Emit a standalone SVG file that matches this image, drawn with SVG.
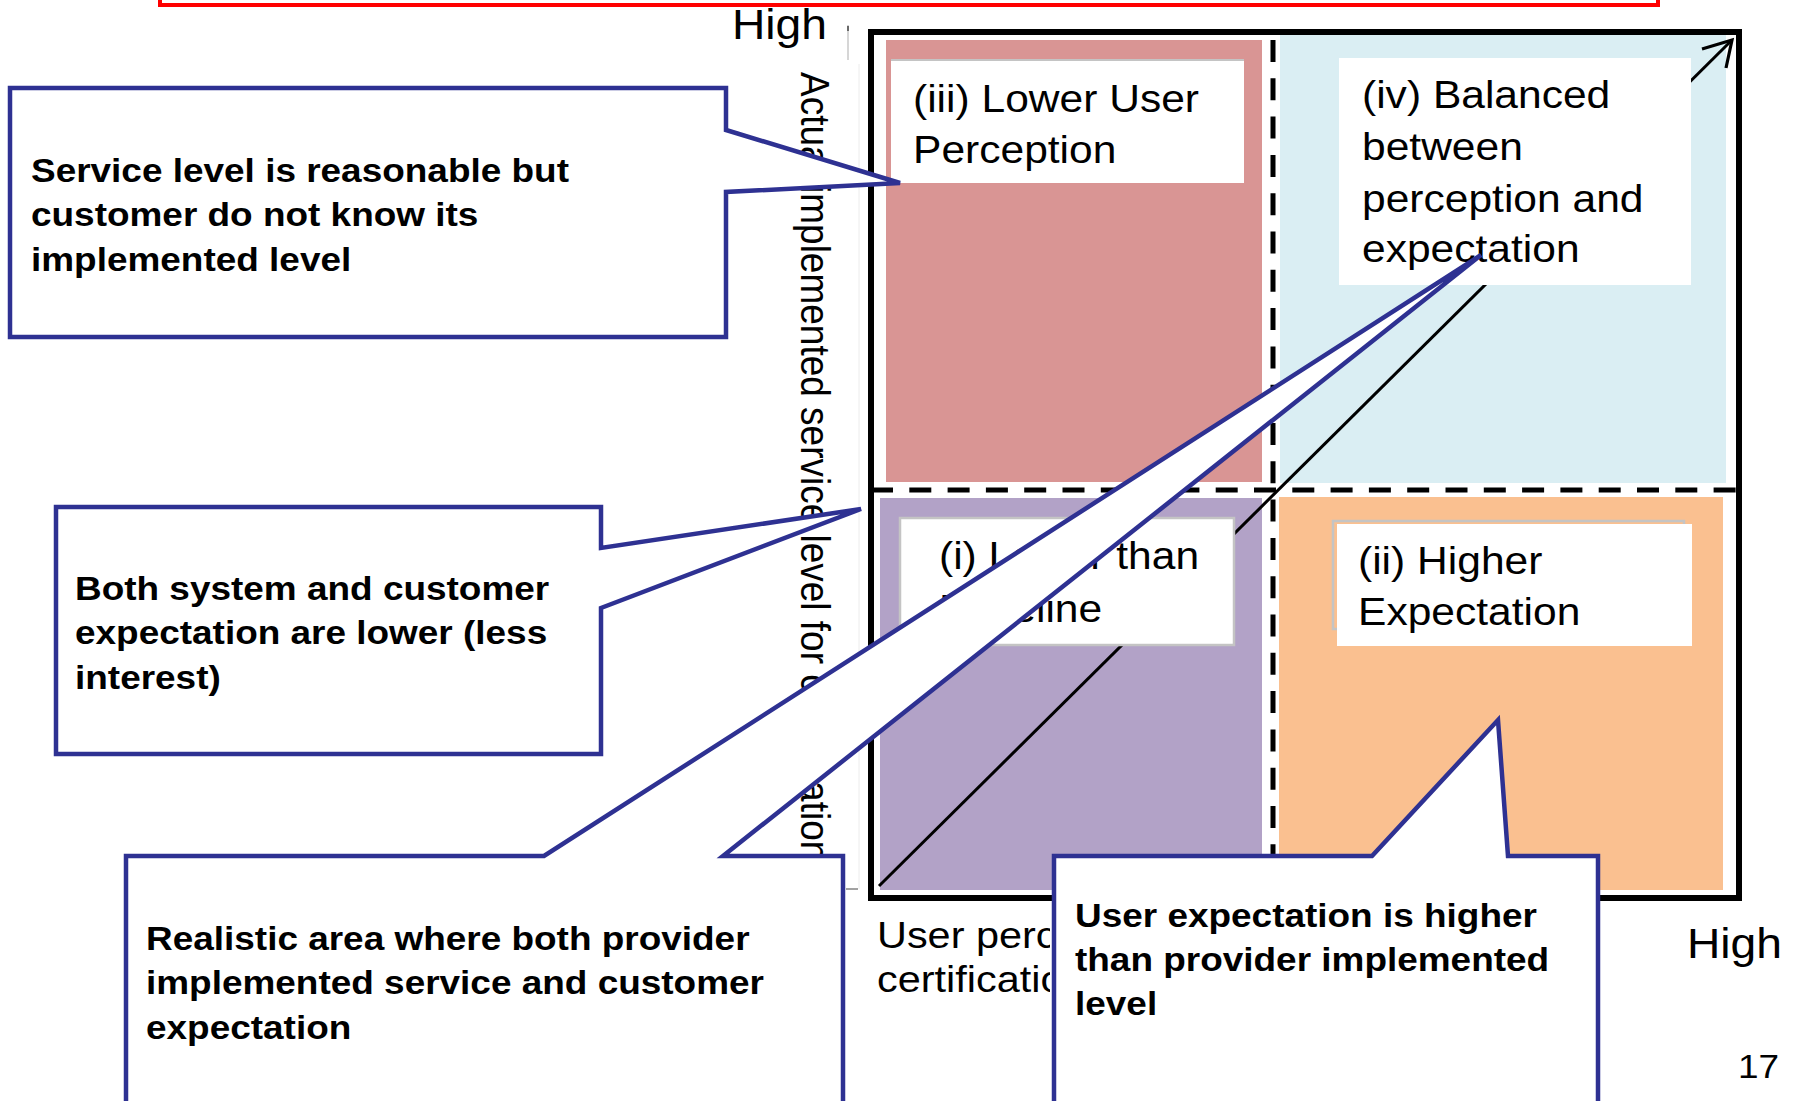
<svg xmlns="http://www.w3.org/2000/svg" width="1797" height="1101" viewBox="0 0 1797 1101">
<style>
.t{font-family:"Liberation Sans",Arial,sans-serif;fill:#000}
.lbl{font-size:38px}
.ax{font-size:37px}
.hi{font-size:42px}
.cal{font-size:33px;font-weight:bold}
.co{fill:#fff;stroke:#2E3192;stroke-width:4.5}
.box{fill:#fff}
.dash{stroke:#000;stroke-width:5;stroke-dasharray:22 16.3;fill:none}
</style>
<defs>
<clipPath id="clipAxisX"><rect x="860" y="900" width="190" height="120"/></clipPath>
</defs>
<rect x="0" y="0" width="1797" height="1101" fill="#fff"/>
<rect x="160" y="-60" width="1498" height="65" fill="none" stroke="#FF0000" stroke-width="4"/>

<g id="axis-guides">
<line x1="848" y1="25" x2="848" y2="60" stroke="#c8c8c8" stroke-width="1.5"/>
<line x1="848" y1="26" x2="848" y2="31" stroke="#444" stroke-width="1.5"/>
<line x1="859" y1="64" x2="859" y2="889" stroke="#ececec" stroke-width="1"/>
<line x1="846" y1="889" x2="858" y2="889" stroke="#444" stroke-width="1"/>
</g>

<g id="quadrants">
<rect id="q3" x="886" y="40" width="376" height="442" fill="#D99594"/>
<rect id="q4" x="1280" y="35" width="446" height="448" fill="#DAEEF3"/>
<rect id="q1" x="880" y="498" width="382" height="392" fill="#B2A2C7"/>
<rect id="q2" x="1279" y="497" width="444" height="393" fill="#FAC090"/>
</g>

<g id="diagonal">
<line x1="879" y1="886" x2="1732" y2="40" stroke="#000" stroke-width="3"/>
<polyline points="1702,49 1732,40 1726,68" fill="none" stroke="#000" stroke-width="3.2"/>
</g>

<g id="label-iii">
<rect x="891" y="59" width="353" height="4" fill="#c4c4c4"/>
<rect class="box" x="891" y="61" width="353" height="122"/>
<text class="t lbl" transform="translate(913,112) scale(1.12,1)"><tspan x="0" y="0">(iii) Lower User</tspan><tspan x="0" y="51">Perception</tspan></text>
</g>
<g id="label-iv">
<rect class="box" x="1339" y="58" width="352" height="227"/>
<text class="t lbl" transform="translate(1362,108) scale(1.12,1)"><tspan x="0" y="0">(iv) Balanced</tspan><tspan x="0" y="52">between</tspan><tspan x="0" y="104">perception and</tspan><tspan x="0" y="154">expectation</tspan></text>
</g>
<g id="label-i">
<rect class="box" x="900" y="518" width="334" height="127" stroke="#c4c4c4" stroke-width="2.5"/>
<text class="t lbl" transform="translate(939,569) scale(1.12,1)"><tspan x="0" y="0">(i) Lower than</tspan><tspan x="0" y="53">Baseline</tspan></text>
</g>
<g id="label-ii">
<rect x="1333" y="521" width="351" height="108" fill="none" stroke="#c4c4c4" stroke-width="2.5"/>
<rect class="box" x="1337" y="524" width="355" height="122"/>
<text class="t lbl" transform="translate(1358,574) scale(1.12,1)"><tspan x="0" y="0">(ii) Higher</tspan><tspan x="0" y="51">Expectation</tspan></text>
</g>

<g id="dividers">
<line class="dash" x1="1273" y1="40" x2="1273" y2="896"/>
<line class="dash" x1="871" y1="490" x2="1740" y2="490"/>
</g>
<rect id="frame" x="871" y="32" width="868" height="866" fill="none" stroke="#000" stroke-width="6"/>

<g id="axis-labels">
<text class="t hi" transform="translate(732,39) scale(1.1,1)">High</text>
<text class="t ax" transform="matrix(0,1,-1.12,0,801,72)">Actual implemented service level for certification</text>
<g clip-path="url(#clipAxisX)">
<text class="t ax" transform="translate(877,948) scale(1.12,1)"><tspan x="0" y="0">User perception</tspan><tspan x="0" y="44">certification</tspan></text>
</g>
<text class="t hi" transform="translate(1687,958) scale(1.1,1)">High</text>
<text class="t" font-size="33" transform="translate(1738,1078) scale(1.12,1)">17</text>
</g>

<g id="connectors">
<polygon id="callout-a-shape" class="co" points="10,88 726,88 726,130 900,183 726,192 726,337 10,337"/>
<polygon id="callout-b-shape" class="co" points="56,507 601,507 601,548 861,509 601,608 601,754 56,754"/>
<polygon id="callout-c-shape" class="co" points="126,856 544,856 1481,255 723,856 843,856 843,1130 126,1130"/>
<polygon id="callout-d-shape" class="co" points="1054,856 1372,856 1498,720 1508,856 1598,856 1598,1130 1054,1130"/>
</g>

<g id="callout-a">
<text class="t cal" transform="translate(31,182) scale(1.12,1)"><tspan x="0" y="0">Service level is reasonable but</tspan><tspan x="0" y="44.5">customer do not know its</tspan><tspan x="0" y="89">implemented level</tspan></text>
</g>
<g id="callout-b">
<text class="t cal" transform="translate(75,600) scale(1.12,1)"><tspan x="0" y="0">Both system and customer</tspan><tspan x="0" y="44.5">expectation are lower (less</tspan><tspan x="0" y="89">interest)</tspan></text>
</g>
<g id="callout-c">
<text class="t cal" transform="translate(146,950) scale(1.12,1)"><tspan x="0" y="0">Realistic area where both provider</tspan><tspan x="0" y="44.5">implemented service and customer</tspan><tspan x="0" y="89">expectation</tspan></text>
</g>
<g id="callout-d">
<text class="t cal" transform="translate(1075,927) scale(1.12,1)"><tspan x="0" y="0">User expectation is higher</tspan><tspan x="0" y="44">than provider implemented</tspan><tspan x="0" y="88">level</tspan></text>
</g>
</svg>
